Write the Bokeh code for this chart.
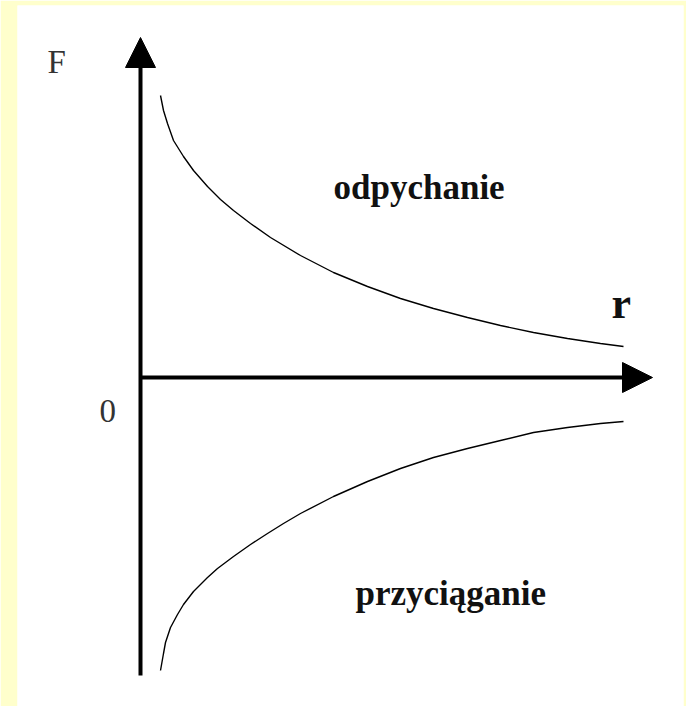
from bokeh.plotting import figure
from bokeh.models import Range1d, Arrow, NormalHead
from bokeh.core.properties import value
from bokeh.embed import file_html
from bokeh.resources import INLINE

# Repulsive force curve (r, F)
r_rep = [0.20, 0.23, 0.27, 0.33, 0.43, 0.53, 0.67, 0.80, 0.93, 1.10, 1.30, 1.60,
         1.93, 2.27, 2.60, 2.93, 3.27, 3.60, 3.93, 4.27, 4.60, 4.83]
F_rep = [2.82, 2.67, 2.54, 2.37, 2.21, 2.07, 1.91, 1.78, 1.67, 1.54, 1.40, 1.22,
         1.05, 0.91, 0.79, 0.69, 0.60, 0.52, 0.45, 0.39, 0.34, 0.31]

# Attractive force curve (r, F)
r_att = [0.20, 0.23, 0.25, 0.30, 0.37, 0.43, 0.53, 0.67, 0.77, 0.93, 1.10, 1.27,
         1.43, 1.60, 1.93, 2.27, 2.60, 2.93, 3.27, 3.60, 3.93, 4.27, 4.60, 4.83]
F_att = [-2.93, -2.76, -2.65, -2.50, -2.37, -2.27, -2.14, -2.00, -1.91, -1.79, -1.67, -1.56,
         -1.46, -1.36, -1.19, -1.04, -0.91, -0.80, -0.71, -0.63, -0.55, -0.50, -0.46, -0.44]

# Axis extents
r_axis_end = 5.12
F_axis_top = 3.40
F_axis_bottom = -2.98

labels = ["F", "0", "r", "odpychanie", "przyciąganie"]

p = figure(width=686, height=706, output_backend="svg", toolbar_location=None,
           x_range=Range1d(-1.23, 5.43), y_range=Range1d(-3.29, 3.72),
           min_border_left=17, min_border_right=3, min_border_top=5, min_border_bottom=0)
p.axis.visible = False
p.grid.visible = False
p.outline_line_color = None
p.background_fill_color = "white"
p.border_fill_color = "#FFFFCC"

# curves
p.line(r_rep, F_rep, line_color="black", line_width=1.4)
p.line(r_att, F_att, line_color="black", line_width=1.4)

# axes with arrowheads
p.add_layout(Arrow(end=NormalHead(size=30, fill_color="black", line_color="black", line_width=1),
                   x_start=0, y_start=F_axis_bottom, x_end=0, y_end=F_axis_top,
                   line_width=4, line_color="black"))
p.add_layout(Arrow(end=NormalHead(size=30, fill_color="black", line_color="black", line_width=1),
                   x_start=0, y_start=0, x_end=r_axis_end, y_end=0,
                   line_width=4, line_color="black"))

# labels
p.text(x=[-0.93], y=[3.16], text=[labels[0]], text_font=value("Liberation Serif"),
       text_font_size="33px", text_color="#333333", text_baseline="alphabetic", text_align="left")
p.text(x=[-0.41], y=[-0.33], text=[labels[1]], text_font=value("Liberation Serif"),
       text_font_size="33px", text_color="#333333", text_baseline="alphabetic", text_align="left")
p.text(x=[4.71], y=[0.74], text=[labels[2]], text_font=value("Liberation Serif"),
       text_font_size="44px", text_font_style="bold", text_color="#111111",
       text_baseline="alphabetic", text_align="left")
p.text(x=[1.93], y=[1.90], text=[labels[3]], text_font=value("Liberation Serif"),
       text_font_size="35px", text_font_style="bold", text_color="#111111",
       text_baseline="alphabetic", text_align="left")
p.text(x=[2.15], y=[-2.16], text=[labels[4]], text_font=value("Liberation Serif"),
       text_font_size="35px", text_font_style="bold", text_color="#111111",
       text_baseline="alphabetic", text_align="left")

open("out.html", "w").write(file_html(p, INLINE))
